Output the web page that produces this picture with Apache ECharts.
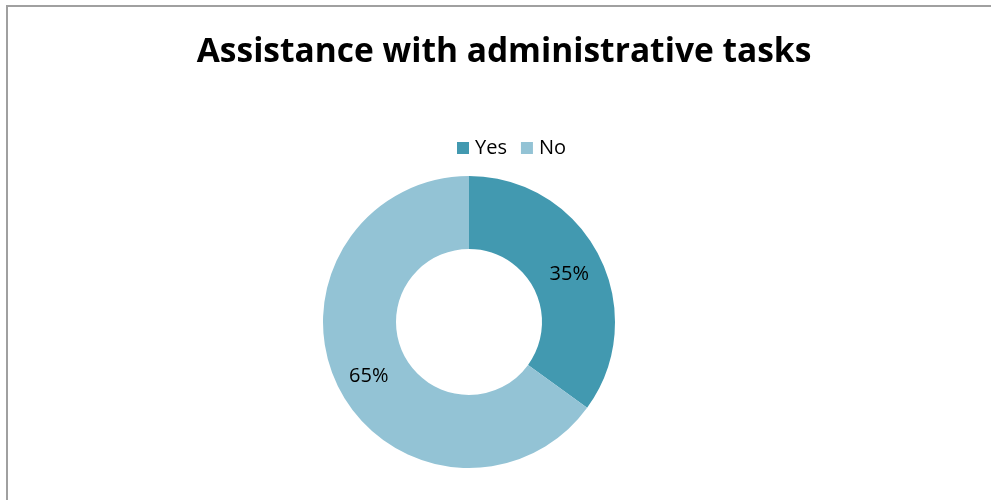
<!DOCTYPE html>
<html>
<head>
<meta charset="utf-8">
<style>
  html, body { margin: 0; padding: 0; background: #ffffff; }
  #chart { width: 991px; height: 500px; }
</style>
<script src="https://cdn.jsdelivr.net/npm/echarts@6/dist/echarts.min.js"></script>
</head>
<body>
<div id="chart"></div>
<script>
// Survey answers and their share of respondents (%)
const categories = ['Yes', 'No'];
const shares = [35, 65];
const colors = ['#4299b0', '#93c3d5'];

const FONT = '"Open Sans", Lato, sans-serif';

const chart = echarts.init(document.getElementById('chart'), null, { renderer: 'canvas' });

chart.setOption({
  animation: false,
  backgroundColor: '#ffffff',
  color: colors,
  title: {
    text: 'Assistance with administrative tasks',
    left: 499,
    textAlign: 'center',
    top: 30,
    textStyle: {
      fontFamily: FONT,
      fontWeight: 'bold',
      fontSize: 33.5,
      color: '#000000'
    }
  },
  legend: {
    data: categories,
    left: 452,
    top: 133,
    itemWidth: 12,
    itemHeight: 12,
    itemGap: 14,
    icon: 'rect',
    textStyle: {
      fontFamily: FONT,
      fontSize: 20,
      color: '#000000',
      padding: [0, 0, 0, 1]
    }
  },
  graphic: [{
    type: 'rect',
    shape: { x: 7, y: 6, width: 1100, height: 600 },
    style: { fill: 'none', stroke: '#a0a0a0', lineWidth: 2 },
    silent: true
  }],
  series: [{
    type: 'pie',
    center: [469, 322],
    radius: [73, 146],
    startAngle: 90,
    clockwise: true,
    avoidLabelOverlap: false,
    label: {
      show: true,
      position: 'inside',
      formatter: p => p.value + '%',
      fontFamily: FONT,
      fontSize: 20,
      color: '#000000',
      offset: [0, 3]
    },
    labelLine: { show: false },
    itemStyle: { borderWidth: 0 },
    data: categories.map((c, i) => ({ name: c, value: shares[i] }))
  }]
});
</script>
</body>
</html>
